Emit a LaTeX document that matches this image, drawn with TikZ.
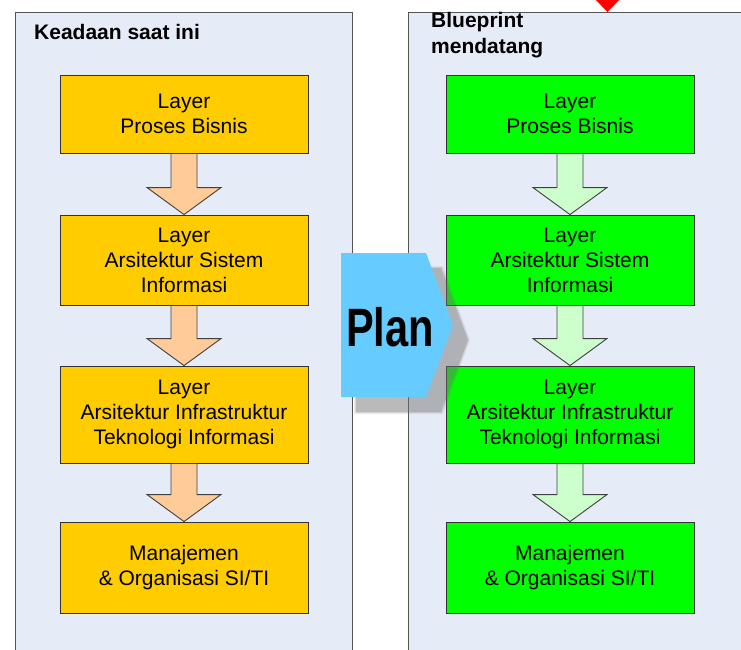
\documentclass[tikz,border=0pt]{standalone}
\usepackage{fontspec}
\setmainfont{Liberation Sans}
\usetikzlibrary{calc}
\definecolor{panelfill}{HTML}{E6ECF7}
\definecolor{panelline}{HTML}{555555}
\definecolor{boxorange}{HTML}{FFCC00}
\definecolor{boxgreen}{HTML}{00FF00}
\definecolor{arroworange}{HTML}{FFCC99}
\definecolor{arrowgreen}{HTML}{CCFFCC}
\definecolor{planblue}{HTML}{66CCFF}
\definecolor{markred}{HTML}{FF0000}
\tikzset{
  panel/.style={draw=panelline, fill=panelfill, line width=1pt},
  layerbox/.style={draw=black!80, line width=0.9pt, minimum width=248pt, align=center,
    font=\fontsize{21}{25}\selectfont, inner sep=0pt},
  orangebox/.style={layerbox, fill=boxorange},
  greenbox/.style={layerbox, fill=boxgreen},
  blockarrow/.style={draw=black!75, line width=0.9pt, line join=miter},
  paneltitle/.style={anchor=base west, font=\fontsize{21}{25}\selectfont\bfseries, inner sep=0pt},
}
\newcommand{\layerarrow}[3]{%
  \path let \p1=(#1.south), \p2=(#2.north) in
    coordinate (hb) at (\x2,\y2+27pt);
  \draw[blockarrow, fill=#3]
    ($(#1.south)+(-13,0)$) -- ($(hb)+(-13,0)$) -- ($(hb)+(-37,0)$) -- (#2.north)
    -- ($(hb)+(37,0)$) -- ($(hb)+(13,0)$) -- ($(#1.south)+(13,0)$) -- cycle;
}
\begin{document}
\begin{tikzpicture}[x=1pt,y=-1pt]
\useasboundingbox (0,0) rectangle (741,649);
\clip (0,0) rectangle (741,649);
\fill[white] (0,0) rectangle (741,649);
% panels
\draw[panel] (15,12) rectangle (352,700);
\draw[panel] (408,12) rectangle (800,700);
% red marker
\fill[markred] (594,-2) -- (621,-2) -- (607.5,12) -- cycle;
% titles
\node[paneltitle] (t1) at (34,39) {Keadaan saat ini};
\node[paneltitle] (t2a) at (431,27) {Blueprint};
\node[paneltitle] (t2b) at (431,53) {mendatang};
% left boxes
\node[orangebox, minimum height=78pt] (L1) at (184,114) {Layer\\Proses Bisnis};
\node[orangebox, minimum height=90pt] (L2) at (184,260) {Layer\\Arsitektur Sistem\\Informasi};
\node[orangebox, minimum height=97pt] (L3) at (184,414.5) {Layer\\Arsitektur Infrastruktur\\Teknologi Informasi};
\node[orangebox, minimum height=91pt] (L4) at (184,567.5) {Manajemen\\\& Organisasi SI/TI};
% right boxes
\node[greenbox, minimum height=78pt] (R1) at (570,114) {Layer\\Proses Bisnis};
\node[greenbox, minimum height=90pt] (R2) at (570,260) {Layer\\Arsitektur Sistem\\Informasi};
\node[greenbox, minimum height=97pt] (R3) at (570,414.5) {Layer\\Arsitektur Infrastruktur\\Teknologi Informasi};
\node[greenbox, minimum height=91pt] (R4) at (570,567.5) {Manajemen\\\& Organisasi SI/TI};
% arrows
\layerarrow{L1}{L2}{arroworange}
\layerarrow{L2}{L3}{arroworange}
\layerarrow{L3}{L4}{arroworange}
\layerarrow{R1}{R2}{arrowgreen}
\layerarrow{R2}{R3}{arrowgreen}
\layerarrow{R3}{R4}{arrowgreen}
% plan shadow (soft)
\foreach \d/\o in {2/0.12,1/0.15,0/0.3}{
  \fill[black!55, opacity=\o]
    (356-\d,268-\d) -- (441+\d,268-\d) -- (468+\d,340) -- (441+\d,412+\d) -- (356-\d,412+\d) -- cycle;
}
% plan shape
\fill[planblue] (341,253) -- (426,253) -- (453,325) -- (426,397) -- (341,397) -- cycle;
\node[anchor=base, inner sep=0pt] (plan) at (390,346)
  {\scalebox{0.77}[1]{\fontsize{54}{54}\selectfont\bfseries Plan}};
\end{tikzpicture}
\end{document}
